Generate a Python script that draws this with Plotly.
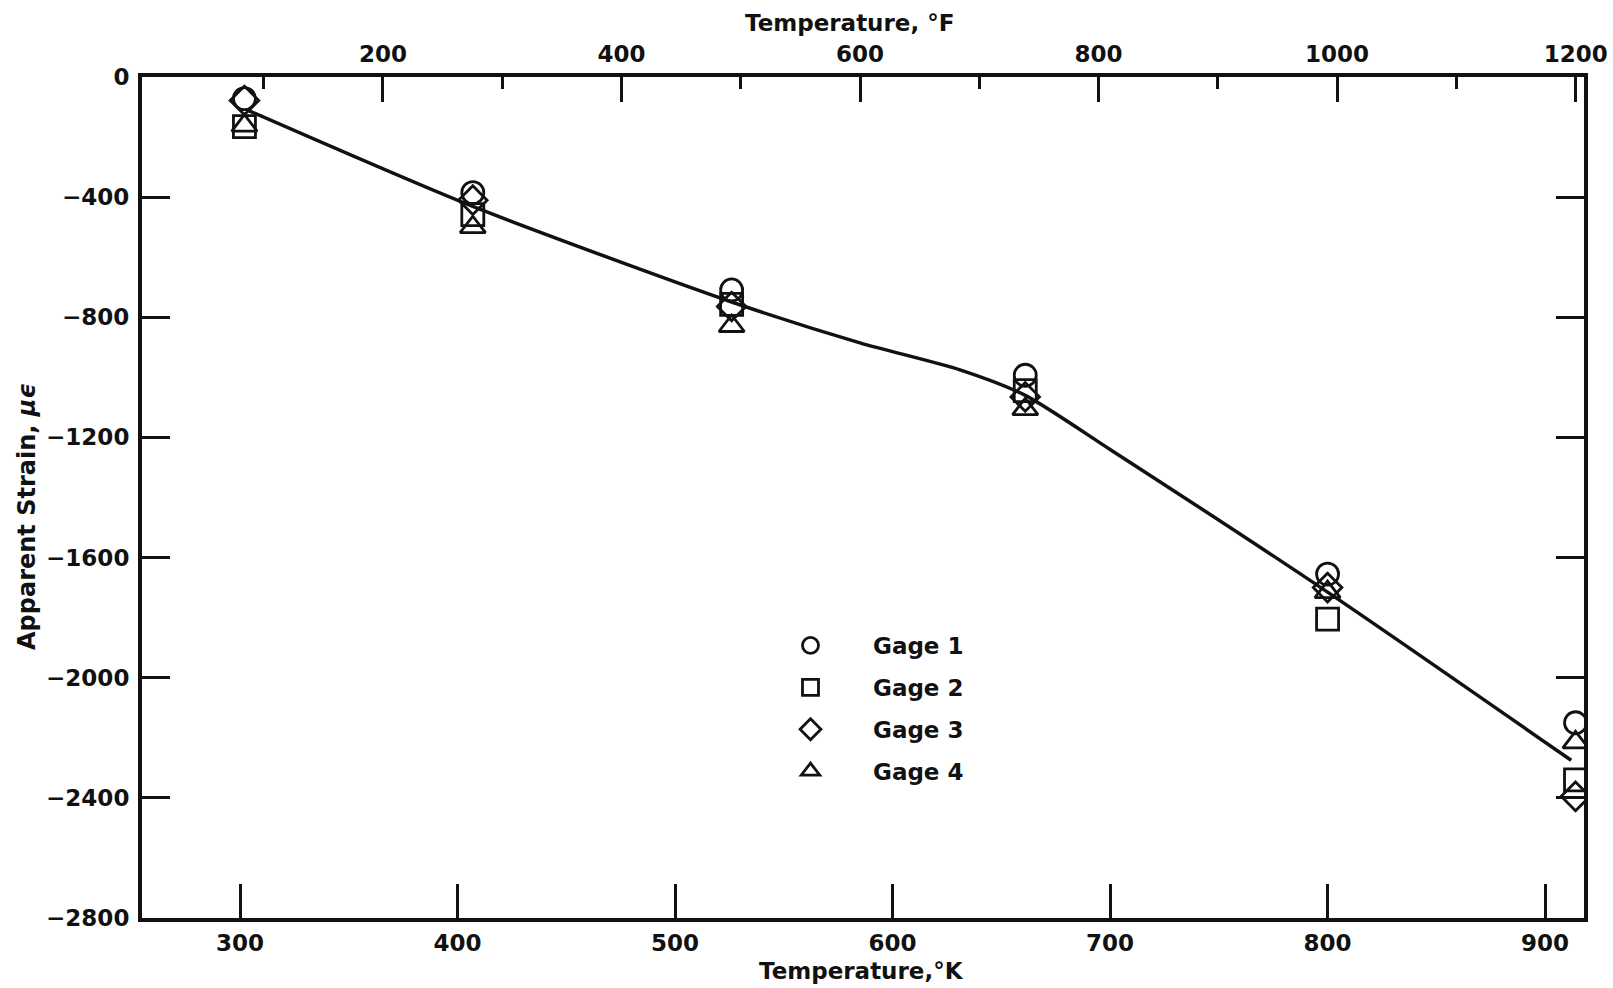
import plotly.graph_objects as go

# Gage readings: apparent strain (micro-strain) at each test temperature (K)
temp_k = [302, 407, 526, 661, 800, 914]
gage1 = [-72, -385, -709, -993, -1655, -2150]
gage2 = [-165, -458, -757, -1044, -1805, -2340]
gage3 = [-78, -410, -764, -1065, -1700, -2395]
gage4 = [-162, -500, -829, -1106, -1715, -2215]

# Faired curve through the data
fit_temp_k = [304, 407, 526, 585, 631, 661, 700, 800, 912]
fit_strain = [-112, -431, -749, -885, -975, -1060, -1240, -1715, -2275]

# Axis ticks
k_ticks = [300, 400, 500, 600, 700, 800, 900]
f_ticks = [200, 400, 600, 800, 1000, 1200]
f_minor = [100, 300, 500, 700, 900, 1100]
strain_ticks = [0, -400, -800, -1200, -1600, -2000, -2400, -2800]

FONT = "DejaVu Sans"
BLACK = "#111111"

# Plot-area geometry in pixels
W, H = 1613, 988
L, R, T, B = 142, 1584, 77, 918


def px(x):
    return (x - L) / (R - L)


def py(y):
    return (B - y) / (B - T)


fig = go.Figure()

fig.add_trace(go.Scatter(
    x=fit_temp_k, y=fit_strain, mode="lines",
    line=dict(color=BLACK, width=3.5, shape="spline", smoothing=0.7),
    showlegend=False, hoverinfo="skip",
))

gages = [
    ("Gage 1", gage1, "circle-open"),
    ("Gage 2", gage2, "square-open"),
    ("Gage 3", gage3, "diamond-open"),
    ("Gage 4", gage4, "triangle-up-open"),
]
for name, vals, sym in gages:
    fig.add_trace(go.Scatter(
        x=temp_k, y=vals, mode="markers", name=name, legendgroup=name,
        marker=dict(symbol=sym, size=22, color=BLACK, line=dict(width=2.8, color=BLACK)),
    ))

# Fahrenheit scale along the top
fig.add_trace(go.Scatter(
    x=[f_ticks[0], f_ticks[-1]], y=[None, None], xaxis="x2",
    mode="markers", showlegend=False, hoverinfo="skip",
))

tick_font = dict(family=FONT, size=23, color=BLACK, weight="bold")

fig.update_layout(
    width=W, height=H, autosize=False,
    paper_bgcolor="white", plot_bgcolor="white",
    margin=dict(l=L, r=W - R, t=T, b=H - B),
    font=dict(family=FONT, color=BLACK),
    xaxis=dict(
        range=[254.9, 917.9], tickmode="array", tickvals=k_ticks,
        ticks="inside", ticklen=34, tickwidth=2.5, tickcolor=BLACK,
        showline=True, linewidth=4, linecolor=BLACK, mirror=False, automargin=False,
        showgrid=False, zeroline=False, tickfont=tick_font, ticklabelstandoff=1,
    ),
    xaxis2=dict(
        overlaying="x", side="top", range=[-2, 1207], tickmode="array", tickvals=f_ticks,
        ticks="inside", ticklen=25, tickwidth=2.5, tickcolor=BLACK,
        minor=dict(tickmode="array", tickvals=f_minor, ticks="inside", ticklen=12,
                   tickwidth=2.5, tickcolor=BLACK),
        showline=True, linewidth=4, linecolor=BLACK, automargin=False,
        showgrid=False, zeroline=False, tickfont=tick_font, ticklabelstandoff=2,
    ),
    yaxis=dict(
        range=[-2800, 0], tickmode="array", tickvals=strain_ticks,
        ticks="inside", ticklen=28, tickwidth=2.5, tickcolor=BLACK,
        showline=True, linewidth=4, linecolor=BLACK, mirror="ticks", automargin=False,
        showgrid=False, zeroline=False, tickfont=tick_font, ticklabelstandoff=4,
    ),
    legend=dict(
        x=px(748), y=py(624), xanchor="left", yanchor="top",
        bgcolor="rgba(0,0,0,0)", borderwidth=0,
        font=dict(family=FONT, size=23, color=BLACK, weight="bold"),
        itemwidth=115, tracegroupgap=9, traceorder="grouped",
    ),
    annotations=[
        dict(text="Temperature, °F", x=px(849), y=py(23), xref="paper", yref="paper",
             showarrow=False, xanchor="center", yanchor="middle",
             font=dict(family=FONT, size=23, color=BLACK, weight="bold")),
        dict(text="Temperature,°K", x=px(861), y=py(971), xref="paper", yref="paper",
             showarrow=False, xanchor="center", yanchor="middle",
             font=dict(family=FONT, size=23, color=BLACK, weight="bold")),
        dict(text="Apparent Strain, <i>μϵ</i>", x=px(27), y=py(516), xref="paper", yref="paper",
             showarrow=False, xanchor="center", yanchor="middle", textangle=-90,
             font=dict(family=FONT, size=24, color=BLACK, weight="bold")),
    ],
)

fig.write_html("out.html")
